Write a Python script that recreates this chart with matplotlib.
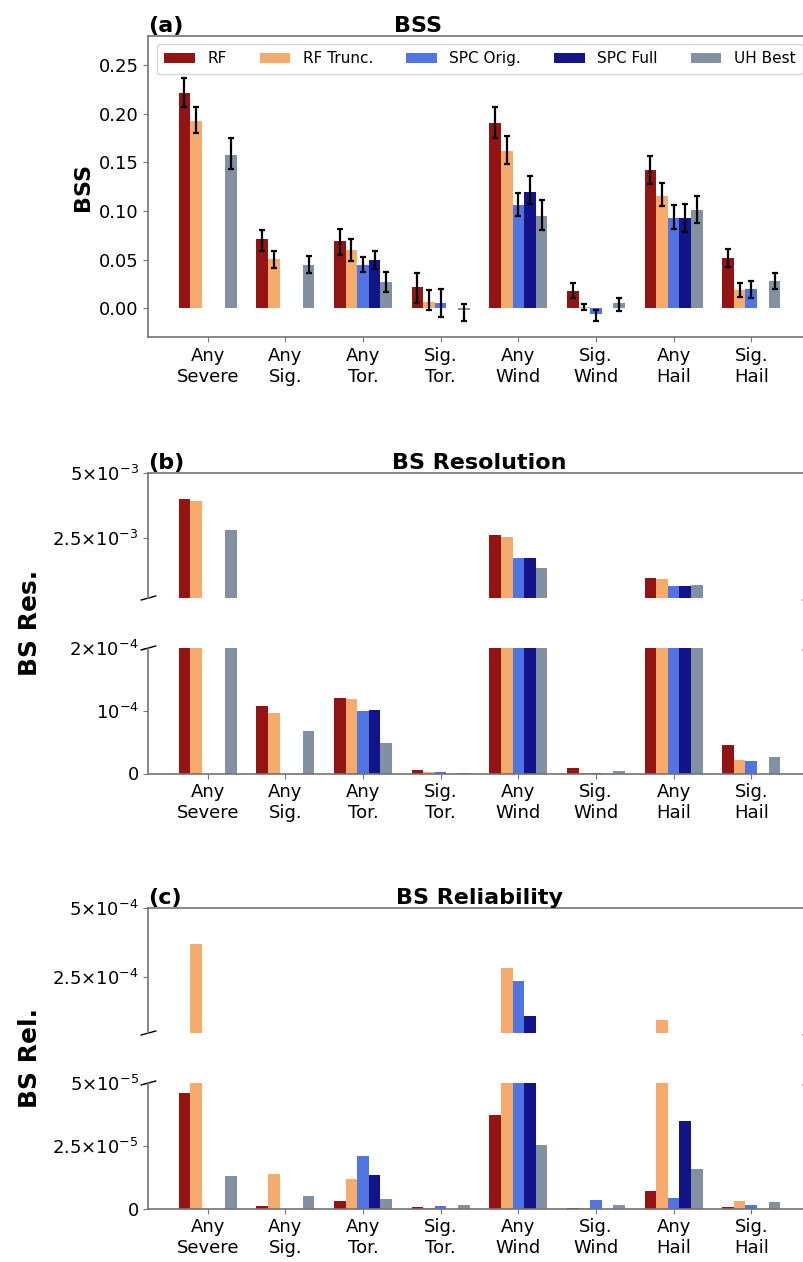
import numpy as np
import matplotlib
matplotlib.use('Agg')
import matplotlib.pyplot as plt

nan = np.nan

categories = ["Any\nSevere", "Any\nSig.", "Any\nTor.", "Sig.\nTor.",
              "Any\nWind", "Sig.\nWind", "Any\nHail", "Sig.\nHail"]
models = ["RF", "RF Trunc.", "SPC Orig.", "SPC Full", "UH Best"]
colors = ["darkred", "sandybrown", "royalblue", "navy", "lightslategray"]

# (a) BSS with confidence bounds
bss = [
    [0.221, 0.071, 0.069, 0.022, 0.191, 0.018, 0.142, 0.052],
    [0.193, 0.051, 0.060, 0.007, 0.162, 0.001, 0.116, 0.019],
    [nan, nan, 0.045, 0.005, 0.106, -0.006, 0.093, 0.020],
    [nan, nan, 0.050, nan, 0.120, nan, 0.093, nan],
    [0.158, 0.045, 0.027, -0.002, 0.095, 0.005, 0.101, 0.028],
]
bss_lo = [
    [0.207, 0.059, 0.055, 0.005, 0.175, 0.0104, 0.128, 0.042],
    [0.180, 0.041, 0.049, -0.002, 0.148, -0.002, 0.105, 0.012],
    [nan, nan, 0.037, -0.0087, 0.095, -0.013, 0.082, 0.011],
    [nan, nan, 0.0406, nan, 0.107, nan, 0.078, nan],
    [0.143, 0.036, 0.0163, -0.013, 0.081, -0.003, 0.088, 0.0198],
]
bss_hi = [
    [0.2365, 0.081, 0.082, 0.0365, 0.207, 0.026, 0.1566, 0.0615],
    [0.207, 0.0587, 0.071, 0.0188, 0.177, 0.004, 0.129, 0.026],
    [nan, nan, 0.053, 0.0194, 0.119, -0.0014, 0.106, 0.0285],
    [nan, nan, 0.059, nan, 0.136, nan, 0.1077, nan],
    [0.175, 0.054, 0.037, 0.004, 0.111, 0.011, 0.115, 0.0365],
]

# (b) BS resolution
bs_res = [
    [4.0e-3, 1.07e-4, 1.21e-4, 6e-6, 2.61e-3, 8e-6, 0.97e-3, 4.5e-5],
    [3.91e-3, 0.96e-4, 1.18e-4, 2e-6, 2.54e-3, 1.5e-6, 0.92e-3, 2.2e-5],
    [nan, nan, 1.0e-4, 2e-6, 1.75e-3, 1.5e-6, 0.65e-3, 2.0e-5],
    [nan, nan, 1.01e-4, nan, 1.75e-3, nan, 0.67e-3, nan],
    [2.81e-3, 0.68e-4, 0.49e-4, 1.5e-6, 1.34e-3, 3.2e-6, 0.70e-3, 2.7e-5],
]

# (c) BS reliability
bs_rel = [
    [4.6e-5, 1.0e-6, 3.1e-6, 0.6e-6, 3.72e-5, 0.1e-6, 7.0e-6, 0.6e-6],
    [3.72e-4, 1.38e-5, 1.19e-5, 0.3e-6, 2.84e-4, 0.3e-6, 0.97e-4, 3.0e-6],
    [nan, nan, 2.09e-5, 0.8e-6, 2.36e-4, 3.3e-6, 4.2e-6, 1.5e-6],
    [nan, nan, 1.35e-5, nan, 1.11e-4, nan, 3.49e-5, nan],
    [1.31e-5, 4.8e-6, 3.6e-6, 1.2e-6, 2.53e-5, 1.2e-6, 1.57e-5, 2.7e-6],
]

W, H = 804, 1262
fig = plt.figure(figsize=(W / 100, H / 100), dpi=100)

x = np.arange(len(categories))
width = 0.15
LEFT, RIGHT = 148.5, 810.5
spine_col = '0.45'


def new_ax(top, bottom):
    ax = fig.add_axes([LEFT / W, 1 - bottom / H, (RIGHT - LEFT) / W,
                       (bottom - top) / H])
    ax.set_xlim(-0.7625, 7.7625)
    for s in ax.spines.values():
        s.set_color(spine_col)
        s.set_linewidth(1.2)
    ax.tick_params(colors=spine_col, labelcolor='k', labelsize=13)
    return ax


def draw_bars(ax, series, lo=None, hi=None):
    for i in range(len(models)):
        vals = np.array(series[i])
        kw = {}
        if lo is not None:
            err = np.vstack([vals - np.array(lo[i]), np.array(hi[i]) - vals])
            kw = dict(yerr=err, capsize=2.5,
                      error_kw=dict(ecolor='k', elinewidth=1.6, capthick=1.6))
        ax.bar(x + (i - 2) * width, vals, width, color=colors[i], alpha=0.92,
               label=models[i], **kw)


def break_marks(ax, at_bottom, dx=0.011, dy=0.016):
    yy = (-dy, dy) if at_bottom else (1 - dy, 1 + dy)
    kw = dict(transform=ax.transAxes, color='k', clip_on=False, lw=1)
    ax.plot((-dx, dx), yy, **kw)
    ax.plot((1 - dx, 1 + dx), yy, **kw)


def titles(ax, letter, title, tx=0.5):
    ax.set_title(letter, loc='left', fontweight='bold', fontsize=16, pad=3)
    ax.set_title(title, fontweight='bold', fontsize=16, pad=3, x=tx)


# ---- (a) BSS
ax_a = new_ax(36, 337.5)
draw_bars(ax_a, bss, bss_lo, bss_hi)
ax_a.set_ylim(-0.03, 0.28)
ax_a.set_yticks([0.0, 0.05, 0.10, 0.15, 0.20, 0.25])
ax_a.set_yticklabels(["0.00", "0.05", "0.10", "0.15", "0.20", "0.25"])
ax_a.set_xticks(x)
ax_a.set_xticklabels(categories)
ax_a.set_ylabel("BSS", fontweight='bold', fontsize=16, labelpad=4)
ax_a.legend(ncol=5, fontsize=11, loc='upper right', columnspacing=2.18,
            borderpad=0.5)
titles(ax_a, "(a)", "BSS", tx=0.407)


# ---- (b), (c) broken axes
def broken_panel(tops, series, top_lim, bot_lim, top_ticks, top_labels,
                 bot_ticks, bot_labels, letter, title, ylabel):
    ax_t = new_ax(tops[0], tops[0] + 125)
    ax_b = new_ax(tops[1], tops[1] + 125.5)
    for ax in (ax_t, ax_b):
        draw_bars(ax, series)
    ax_t.set_ylim(*top_lim)
    ax_b.set_ylim(*bot_lim)
    ax_t.spines['bottom'].set_visible(False)
    ax_b.spines['top'].set_visible(False)
    ax_t.tick_params(bottom=False, labelbottom=False)
    ax_t.set_yticks(top_ticks)
    ax_t.set_yticklabels(top_labels)
    ax_b.set_yticks(bot_ticks)
    ax_b.set_yticklabels(bot_labels)
    ax_b.set_xticks(x)
    ax_b.set_xticklabels(categories)
    break_marks(ax_t, True)
    break_marks(ax_b, False)
    titles(ax_t, letter, title)
    ymid = 1 - ((tops[0] + tops[1] + 125.5) / 2) / H
    fig.text(30 / W, ymid, ylabel, rotation=90, fontweight='bold',
             fontsize=18, ha='center', va='center')


broken_panel((473, 648), bs_res, (2e-4, 5e-3), (0, 2e-4),
             [2.5e-3, 5e-3], [r"$2.5{\times}10^{-3}$", r"$5{\times}10^{-3}$"],
             [0, 1e-4, 2e-4], ["0", r"$10^{-4}$", r"$2{\times}10^{-4}$"],
             "(b)", "BS Resolution", "BS Res.")

broken_panel((908, 1083), bs_rel, (5e-5, 5e-4), (0, 5e-5),
             [2.5e-4, 5e-4], [r"$2.5{\times}10^{-4}$", r"$5{\times}10^{-4}$"],
             [0, 2.5e-5, 5e-5],
             ["0", r"$2.5{\times}10^{-5}$", r"$5{\times}10^{-5}$"],
             "(c)", "BS Reliability", "BS Rel.")

fig.savefig("out.png", dpi=100)
